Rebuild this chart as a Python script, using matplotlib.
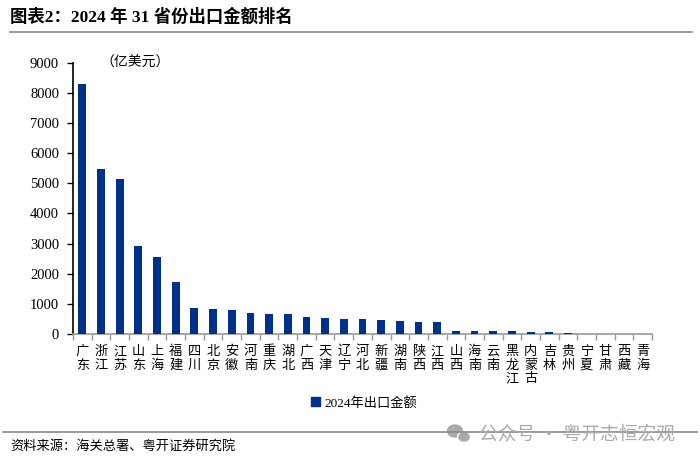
import matplotlib
matplotlib.use("Agg")
import matplotlib.pyplot as plt
from matplotlib.lines import Line2D
from matplotlib.patches import Patch, Ellipse

plt.rcParams['font.family'] = ['Liberation Serif', 'Noto Sans CJK SC', 'DejaVu Sans']

provinces = ["广东", "浙江", "江苏", "山东", "上海", "福建", "四川", "北京", "安徽", "河南",
             "重庆", "湖北", "广西", "天津", "辽宁", "河北", "新疆", "湖南", "陕西", "江西",
             "山西", "海南", "云南", "黑龙江", "内蒙古", "吉林", "贵州", "宁夏", "甘肃", "西藏", "青海"]
exports = [8280, 5480, 5130, 2910, 2550, 1730, 850, 820, 790, 710,
           680, 650, 580, 530, 510, 500, 470, 440, 400, 400,
           110, 110, 95, 90, 80, 65, 35, 12, 10, 8, 6]
series_name = "2024年出口金额"
yticks = list(range(0, 9001, 1000))

fig = plt.figure(figsize=(7.0, 4.61), dpi=100)
ax = fig.add_axes([73/700, 1-334/461, (652-73)/700, (334-62.7)/461])

x = list(range(len(provinces)))
ax.bar(x, exports, width=0.42, color="#003087", zorder=3)

ax.set_xlim(-0.5, len(provinces) - 0.5)
ax.set_ylim(0, 9000)
ax.set_yticks(yticks)
ax.set_yticklabels([str(v) for v in yticks], fontsize=10.5, family=['Liberation Serif'])
ax.tick_params(axis='y', direction='out', length=4, width=1, color='black', pad=6)

ax.set_xticks(x)
ax.set_xticklabels(["\n".join(p) for p in provinces], fontsize=9.5,
                   family=['Noto Sans CJK SC'], linespacing=1.05, va='top')
ax.tick_params(axis='x', which='major', length=0, pad=8)
ax.set_xticks([i - 0.5 for i in range(len(provinces) + 1)], minor=True)
ax.tick_params(axis='x', which='minor', direction='out', length=4, width=1, color='#999999')

for s in ['top', 'right']:
    ax.spines[s].set_visible(False)
ax.spines['left'].set_color('black')
ax.spines['left'].set_linewidth(1.2)
ax.spines['bottom'].set_color('#999999')
ax.spines['bottom'].set_linewidth(1.2)

fig.text(100/700, 1-63/461, "（亿美元）", fontsize=10, family=['Noto Sans CJK SC'],
         ha='left', va='center')

# legend
fig.legend(handles=[Patch(color="#003087")], labels=[series_name], loc='center',
           bbox_to_anchor=(364/700, 1-403/461), frameon=False, handlelength=0.7,
           handleheight=0.7, handletextpad=0.3,
           prop={'family': ['Liberation Serif', 'Noto Sans CJK SC'], 'size': 9.5})

# title
fig.text(10/700, 1-17/461, "图表2：2024 年 31 省份出口金额排名", fontsize=12.5, fontweight='bold',
         family=['Liberation Serif', 'Noto Sans CJK SC'], ha='left', va='center')
fig.add_artist(Line2D([10/700, 692/700], [1-32/461, 1-32/461], color='#888888', lw=1.2))

# footer
fig.add_artist(Line2D([3/700, 697/700], [1-432/461, 1-432/461], color='#888888', lw=1.2))
fig.text(10/700, 1-446/461, "资料来源：海关总署、粤开证券研究院", fontsize=9.5, style='italic',
         family=['Noto Sans CJK SC'], ha='left', va='center')
fig.text(479/700, 1-434/461, "公众号 · 粤开志恒宏观", fontsize=13.5, color='#aaaaaa',
         family=['Noto Sans CJK SC'], ha='left', va='center')
fig.add_artist(Ellipse((455/700, 1-431/461), 15/700, 12/461, color='#aaaaaa'))
fig.add_artist(Ellipse((464/700, 1-437/461), 13/700, 11/461, color='#aaaaaa', ec='white', lw=1))

fig.savefig("out.png", dpi=100)
